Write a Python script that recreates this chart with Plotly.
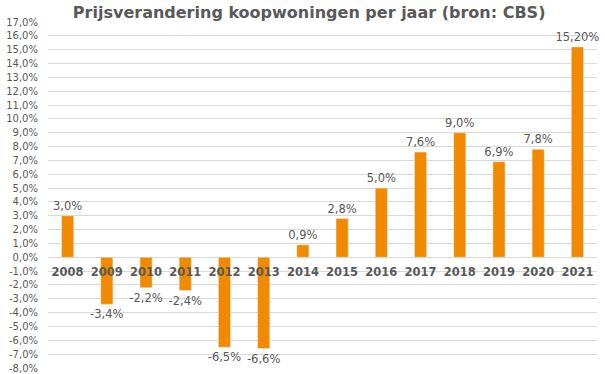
import plotly.graph_objects as go

years = ["2008","2009","2010","2011","2012","2013","2014","2015","2016","2017","2018","2019","2020","2021"]
values = [3.0,-3.4,-2.2,-2.4,-6.5,-6.6,0.9,2.8,5.0,7.6,9.0,6.9,7.8,15.2]
labels = ["3,0%","-3,4%","-2,2%","-2,4%","-6,5%","-6,6%","0,9%","2,8%","5,0%","7,6%","9,0%","6,9%","7,8%","15,20%"]
yticks = list(range(-8, 18))
yticktext = [("%d,0%%" % v) for v in yticks]
ymin, ymax = -8, 17

FONT = "DejaVu Sans"
GREY = "#595959"

fig = go.Figure(go.Bar(
    x=years, y=values, text=labels, textposition="outside",
    textfont=dict(family=FONT, size=11.5, color=GREY),
    constraintext="none", cliponaxis=False,
    marker=dict(color="#F28A00"),
))

fig.update_layout(
    width=605, height=374,
    margin=dict(l=48, r=8, t=22, b=6),
    paper_bgcolor="white", plot_bgcolor="white",
    bargap=0.69,
    showlegend=False,
    title=dict(text="<b>Prijsverandering koopwoningen per jaar (bron: CBS)</b>",
               x=0.511, xanchor="center", y=0.968, yanchor="middle",
               font=dict(family=FONT, size=16, color=GREY)),
    xaxis=dict(type="category", anchor="free", position=(0 - ymin) / (ymax - ymin),
               showgrid=False, zeroline=False, showline=False, ticks="",
               ticklabelstandoff=6,
               tickfont=dict(family=FONT, size=11.5, color=GREY), tickprefix="<b>", ticksuffix="</b>"),
    yaxis=dict(range=[ymin, ymax], tickvals=yticks, ticktext=yticktext,
               showgrid=True, gridcolor="#D9D9D9", gridwidth=1,
               zeroline=True, zerolinecolor="#D9D9D9", zerolinewidth=1,
               tickfont=dict(family=FONT, size=10, color=GREY), ticklen=0,
               ticks="", ticklabelstandoff=9, ticklabeloverflow="allow", automargin=False),
)

fig.write_html("out.html", config={"displayModeBar": False},
               post_script="document.body.style.margin='0';")
